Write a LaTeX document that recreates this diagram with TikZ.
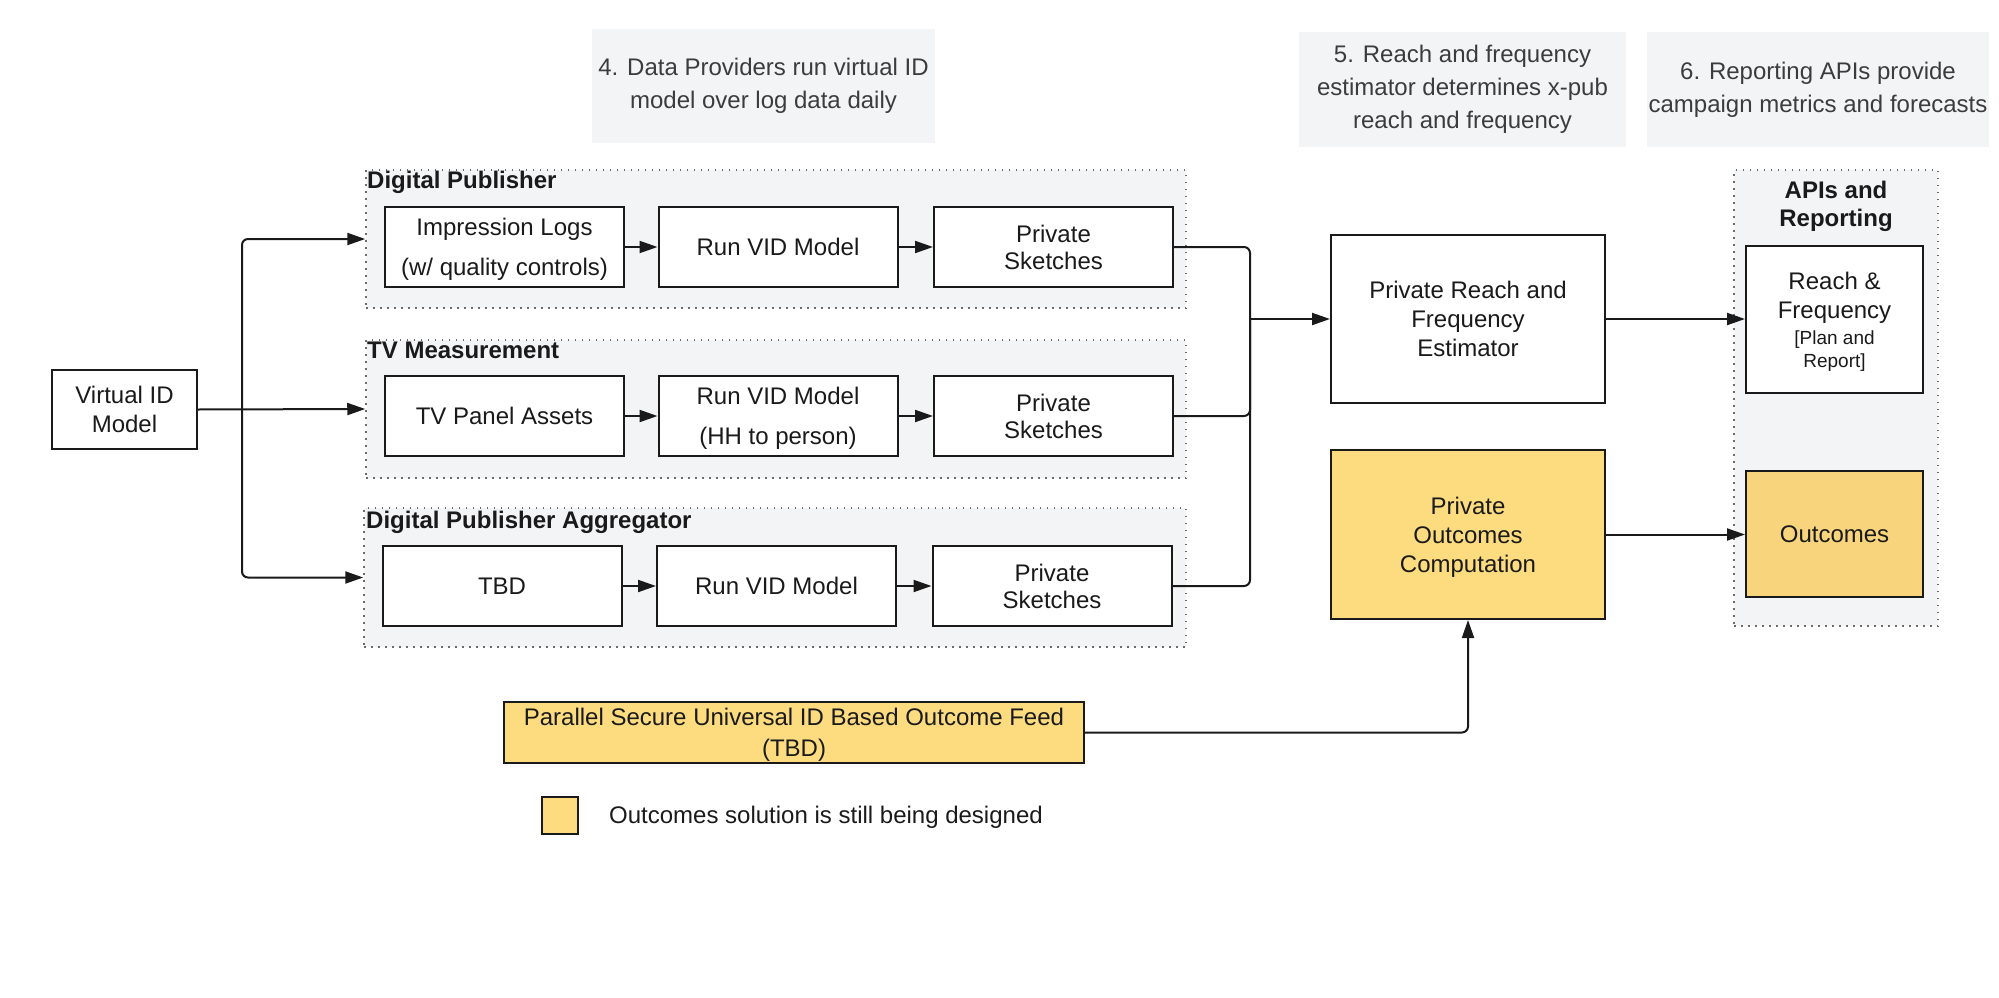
\documentclass[tikz,border=0pt]{standalone}
\usepackage{fontspec}
\setmainfont{Liberation Sans}
\usetikzlibrary{arrows.meta}
\definecolor{grp}{HTML}{F3F4F6}
\definecolor{ylw}{HTML}{FDDB7F}
\definecolor{ylwb}{HTML}{F8D57C}
\definecolor{annot}{HTML}{3C3C3C}
\definecolor{ink}{HTML}{1A1A1A}
\definecolor{dotc}{HTML}{6B6B6B}
\tikzset{
  box/.style={draw=ink, line width=2pt, fill=white, inner sep=0pt, align=center, text=ink, text depth=-6pt, font=\fontsize{24}{29}\selectfont},
  grpbox/.style={draw=dotc, line width=1.5pt, dash pattern=on 1.5pt off 5.5pt, fill=grp, inner sep=0pt},
  annbox/.style={fill=grp, inner sep=0pt, align=center, text=annot, font=\fontsize{24}{33}\selectfont},
  conn/.style={draw=ink, line width=2pt, rounded corners=6pt, -{Triangle[length=18pt,width=12pt]}},
  wire/.style={draw=ink, line width=2pt, rounded corners=6pt},
  gtitle/.style={anchor=base west, inner sep=0pt, font=\bfseries\fontsize{24}{29}\selectfont, text=ink},
  rowbox/.style={box, minimum width=239pt, minimum height=80pt},
}
\begin{document}
\begin{tikzpicture}[x=1pt,y=-1pt]
\useasboundingbox (0,0) rectangle (1999,998);

% annotations
\node[annbox, minimum width=343pt, minimum height=114pt] (a4) at (763.5,86) {4. Data Providers run virtual ID\\model over log data daily};
\node[annbox, minimum width=327pt, minimum height=115pt] (a5) at (1462.5,89.5) {5. Reach and frequency\\estimator determines x-pub\\reach and frequency};
\node[annbox, minimum width=342pt, minimum height=115pt] (a6) at (1818,89.5) {6. Reporting APIs provide\\campaign metrics and forecasts};

% groups
\node[grpbox, minimum width=820pt, minimum height=138pt] (g1) at (776,239) {};
\node[grpbox, minimum width=820pt, minimum height=138pt] (g2) at (776,409) {};
\node[grpbox, minimum width=822pt, minimum height=139pt] (g3) at (775,577.5) {};
\node[gtitle] (t1) at (367,188) {Digital Publisher};
\node[gtitle] (t2) at (367,358) {TV Measurement};
\node[gtitle] (t3) at (366,528) {Digital Publisher Aggregator};

% left
\node[box, minimum width=145pt, minimum height=79pt] (vid) at (124.5,409.5) {Virtual ID\\Model};

% row 1
\node[rowbox] (il) at (504.5,247) {Impression Logs\\[11pt](w/ quality controls)};
\node[rowbox] (rv1) at (778,247) {Run VID Model};
\node[rowbox, font=\fontsize{24}{27}\selectfont] (ps1) at (1053.5,247) {Private\\Sketches};
% row 2
\node[rowbox] (tv) at (504.5,416) {TV Panel Assets};
\node[rowbox] (rv2) at (778,416) {Run VID Model\\[11pt](HH to person)};
\node[rowbox, font=\fontsize{24}{27}\selectfont] (ps2) at (1053.5,416) {Private\\Sketches};
% row 3
\node[rowbox] (tbd) at (502,586) {TBD};
\node[rowbox] (rv3) at (776.5,586) {Run VID Model};
\node[rowbox, font=\fontsize{24}{27}\selectfont] (ps3) at (1052,586) {Private\\Sketches};

% right side
\node[box, minimum width=274pt, minimum height=168pt] (prf) at (1468,319) {Private Reach and\\Frequency\\Estimator};
\node[box, fill=ylw, minimum width=274pt, minimum height=169pt, text depth=-2pt] (po) at (1468,534.5) {Private\\Outcomes\\Computation};
\node[grpbox, minimum width=204pt, minimum height=456pt] (api) at (1836,398) {};
\node[inner sep=0pt, align=center, text=ink, font=\bfseries\fontsize{24}{28}\selectfont] (apit) at (1836,206) {APIs and\\Reporting};
\node[box, minimum width=177pt, minimum height=147pt, text depth=-8pt] (rf) at (1834.5,319.5) {Reach \&\\Frequency\\[-3pt]{\fontsize{19}{23}\selectfont [Plan and}\\[-6pt]{\fontsize{19}{23}\selectfont Report]}};
\node[box, fill=ylwb, minimum width=177pt, minimum height=126pt] (out) at (1834.5,534) {Outcomes};

% bottom
\node[box, fill=ylw, minimum width=580pt, minimum height=61pt, font=\fontsize{24}{31}\selectfont] (feed) at (794,732.5) {Parallel Secure Universal ID Based Outcome Feed\\(TBD)};
\node[box, fill=ylw, minimum width=36pt, minimum height=37pt] (leg) at (560,815.5) {};
\node[anchor=west, inner sep=0pt, text=ink, font=\fontsize{24}{29}\selectfont] (legt) at (609,817) {Outcomes solution is still being designed};

% connectors
\coordinate (split) at (242,409.5);
\draw[conn] (vid.east) -- (g2.west);
\draw[conn] (split) |- (g1.west);
\draw[conn] (split) |- (g3.west);

\draw[conn] (il.east) -- (rv1.west);
\draw[conn] (rv1.east) -- (ps1.west);
\draw[conn] (tv.east) -- (rv2.west);
\draw[conn] (rv2.east) -- (ps2.west);
\draw[conn] (tbd.east) -- (rv3.west);
\draw[conn] (rv3.east) -- (ps3.west);

\coordinate (merge) at (1250,319);
\draw[wire] (ps1.east) -| (merge);
\draw[wire] (ps2.east) -| (merge);
\draw[wire] (ps3.east) -| (merge);
\draw[conn] (merge) -- (prf.west);

\draw[conn] (prf.east) -- (prf.east -| rf.west);
\draw[conn] (po.east) -- (po.east -| out.west);
\draw[conn] (feed.east) -| (po.south);
\end{tikzpicture}
\end{document}
